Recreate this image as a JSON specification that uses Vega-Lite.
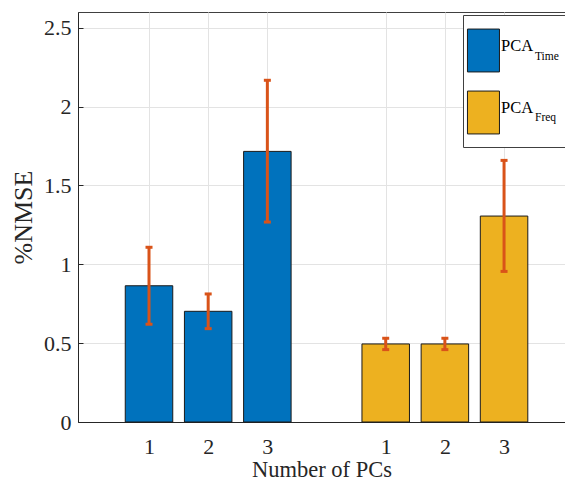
{
  "$schema": "https://vega.github.io/schema/vega-lite/v6.json",
  "width": 487,
  "height": 410,
  "autosize": "none",
  "padding": {"left": 78, "top": 12, "right": 0, "bottom": 58},
  "background": "white",
  "data": {
    "values": [
      {"series": "PCA_Time", "group": "Time", "pos": 1, "value": 0.864, "lo": 0.62, "hi": 1.108},
      {"series": "PCA_Time", "group": "Time", "pos": 2, "value": 0.702, "lo": 0.592, "hi": 0.812},
      {"series": "PCA_Time", "group": "Time", "pos": 3, "value": 1.716, "lo": 1.268, "hi": 2.167},
      {"series": "PCA_Freq", "group": "Freq", "pos": 5, "value": 0.495, "lo": 0.459, "hi": 0.531},
      {"series": "PCA_Freq", "group": "Freq", "pos": 6, "value": 0.495, "lo": 0.459, "hi": 0.531},
      {"series": "PCA_Freq", "group": "Freq", "pos": 7, "value": 1.306, "lo": 0.955, "hi": 1.659}
    ]
  },
  "config": {
    "view": {"stroke": "#404040", "strokeWidth": 1},
    "font": "Liberation Serif",
    "axis": {
      "labelFont": "Liberation Serif",
      "titleFont": "Liberation Serif",
      "labelColor": "#262626",
      "titleColor": "#262626",
      "domainColor": "#262626",
      "tickColor": "#262626",
      "gridColor": "#e3e3e3",
      "gridWidth": 1,
      "titleFontWeight": "normal"
    }
  },
  "layer": [
    {
      "mark": {"type": "bar", "size": 47.5, "stroke": "#1a1a1a", "strokeWidth": 1},
      "encoding": {
        "x": {
          "field": "pos",
          "type": "quantitative",
          "scale": {"domain": [-0.2, 8.03], "nice": false, "zero": false, "padding": 0},
          "axis": {
            "values": [1, 2, 3, 5, 6, 7],
            "labelExpr": "datum.value > 4 ? datum.value - 4 : datum.value",
            "title": "Number of PCs",
            "labelFontSize": 22,
            "titleFontSize": 22.5,
            "ticks": false,
            "labelPadding": 14,
            "titlePadding": 1,
            "grid": true
          }
        },
        "y": {
          "field": "value",
          "type": "quantitative",
          "scale": {"domain": [0, 2.6], "nice": false, "padding": 0},
          "axis": {
            "values": [0, 0.5, 1, 1.5, 2, 2.5],
            "format": "~g",
            "title": "%NMSE",
            "labelFontSize": 22,
            "titleFontSize": 26,
            "tickSize": -5,
            "labelPadding": 12,
            "titlePadding": 7,
            "grid": true
          }
        },
        "fill": {
          "field": "series",
          "type": "nominal",
          "scale": {"domain": ["PCA_Time", "PCA_Freq"], "range": ["#0072BD", "#EDB120"]},
          "legend": {
            "orient": "none",
            "legendX": 385,
            "legendY": 3,
            "zindex": 2,
            "title": null,
            "labelExpr": "'PCA'",
            "symbolType": "M-1.94,-1.34H0.06V1.34H-1.94Z",
            "symbolSize": 1024,
            "symbolStrokeColor": "#1a1a1a",
            "symbolStrokeWidth": 1,
            "symbolOpacity": 1,
            "labelFontSize": 16.5,
            "labelFont": "Liberation Serif",
            "labelColor": "black",
            "labelBaseline": "alphabetic",
            "labelOffset": -14,
            "padding": 19,
            "rowPadding": 15,
            "strokeColor": "transparent",
            "fillColor": "transparent"
          }
        },
        "opacity": {
          "field": "group",
          "type": "nominal",
          "scale": {"domain": ["Time", "Freq"], "range": [1, 1]},
          "legend": {
            "orient": "none",
            "legendX": 385,
            "legendY": 3,
            "zindex": 1,
            "title": null,
            "symbolOpacity": 0,
            "symbolFillColor": "transparent",
            "symbolSize": 1024,
            "symbolStrokeWidth": 0,
            "labelFontSize": 11.5,
            "labelFont": "Liberation Serif",
            "labelColor": "black",
            "labelBaseline": "top",
            "labelOffset": 20.5,
            "padding": 19.5,
            "rowPadding": 29,
            "strokeColor": "#404040",
            "fillColor": "white"
          }
        }
      }
    },
    {
      "mark": {"type": "rule", "color": "#D95319", "strokeWidth": 3},
      "encoding": {
        "x": {"field": "pos", "type": "quantitative"},
        "y": {"field": "lo", "type": "quantitative"},
        "y2": {"field": "hi"}
      }
    },
    {
      "mark": {"type": "tick", "orient": "horizontal", "color": "#D95319", "size": 7, "thickness": 3, "opacity": 1},
      "encoding": {
        "x": {"field": "pos", "type": "quantitative"},
        "y": {"field": "lo", "type": "quantitative"}
      }
    },
    {
      "mark": {"type": "tick", "orient": "horizontal", "color": "#D95319", "size": 7, "thickness": 3, "opacity": 1},
      "encoding": {
        "x": {"field": "pos", "type": "quantitative"},
        "y": {"field": "hi", "type": "quantitative"}
      }
    }
  ]
}
